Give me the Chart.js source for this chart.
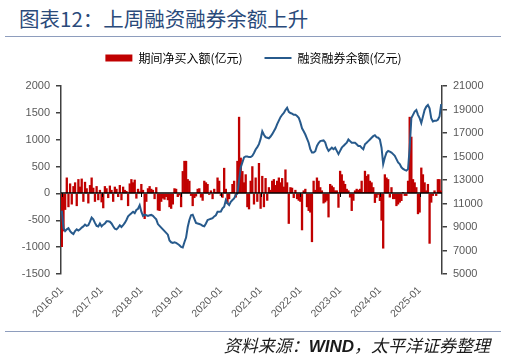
<!DOCTYPE html>
<html>
<head>
<meta charset="utf-8">
<script src="https://cdn.jsdelivr.net/npm/chart.js@4.4.1/dist/chart.umd.min.js"></script>
<style>
	body { margin: 0; background: #fff; }
	#wrap { position: relative; width: 507px; height: 359px; overflow: hidden; }
	#title { position: absolute; left: 19px; top: 3px; font: 20.5px "Noto Sans CJK SC", sans-serif; color: #2a4a7a; white-space: nowrap; }
	.rule { position: absolute; left: 5px; width: 496px; height: 0; border-top: 1.5px solid #8e9dbd; }
	#source { position: absolute; right: 17px; top: 332px; font: italic 17px "Noto Sans CJK SC", sans-serif; color: #1a1a1a; white-space: nowrap; }
	#source b { font-family: "Liberation Sans", sans-serif; }
	canvas { position: absolute; left: 0; top: 0; }
</style>
</head>
<body>
<div id="wrap">
	<div id="title">图表12：上周融资融券余额上升</div>
	<div class="rule" style="top:36px"></div>
	<canvas id="chart" width="507" height="359"></canvas>
	<div class="rule" style="top:331px"></div>
	<div id="source">资料来源：<b>WIND</b>，太平洋证券整理</div>
</div>
<script>
// half-month categories, 2016-01 .. 2025-07
var labels = [];
for (var y = 2016; y <= 2025; y++) {
	for (var m = 1; m <= 12; m++) {
		var mm = (m < 10 ? '0' : '') + m;
		labels.push(y + '-' + mm);
		labels.push(y + '-' + mm);
	}
}
labels = labels.slice(0, 230);

var yearTicks = ['2016-01', '2017-01', '2018-01', '2019-01', '2020-01', '2021-01', '2022-01', '2023-01', '2024-01', '2025-01'];

// 期间净买入额 (亿元)
var netBuy = [
	-990, -700, -300, 290, -250, 180, -200, 130, 200, -230, 260, 120, 270, -150, 210, 90, -180, 150, 290, 100, -150, 130, -120, 60,
	-160, -270, 130, 90, -80, 140, 60, -150, 120, 80, -60, 150, -120, 120, 60, 40, -230, 180, 260, 200, 250, -90, 80, 30,
	170, 60, -470, -150, 90, 130, 80, 60, -100, 110, -310, -320, -150, -90, -110, -60, -120, -250, -280, -200, 90, 80, -60, -30,
	-250, 410, 600, 600, 260, 230, -40, -230, -80, -50, 80, 90, -70, -130, 230, 200, 170, -20, 50, -100, 80, 20, 290, 230,
	-40, -75, 470, 80, -190, -100, 20, 170, 230, -70, 600, 1420, 660, 410, 200, 350, -250, -290, 230, 500, -200, 290, -150, 560,
	-280, 320, -250, 280, -130, 110, 60, 230, 260, 150, 230, 290, 200, 280, 120, 440, 200, -560, 110, 100, -80, 60, -100, -130,
	-150, -680, 50, 80, -250, -320, -350, -900, 230, 60, 290, 230, 110, 50, -180, -160, -130, -440, 170, 140, 110, 50, 50, -260,
	415, 350, 230, 170, 80, 50, -70, -320, -130, 50, 80, 60, 80, 230, 20, 415, 320, 350, 230, 200, 110, -170, -75, -20,
	-135, -500, -1020, 350, 290, 260, -70, 110, -100, -100, -230, -200, -165, -135, 20, -40, -40, 230, 1420, 1050, 260, 200, 110, -380,
	-350, 475, 350, 200, 50, 170, -930, -165, -40, 50, -40, 260, 260, 50
];

// 融资融券余额 (亿元)
var balance = [
	10400, 8900, 8650, 8800, 8900, 8650, 8500, 8400, 8650, 8800, 8700, 8800, 8950, 9050, 9200, 9100, 9150, 9450, 9800, 9650, 9350, 9100, 9050, 9300,
	9060, 9200, 9300, 9480, 9480, 9450, 9300, 9060, 8850, 8800, 8950, 9150, 9000, 9150, 9350, 9600, 9900, 10050, 10170, 10300, 10180, 10450, 10550, 10850,
	10300, 9950, 10050, 10000, 9950, 10000, 10030, 9950, 9800, 9650, 9250, 9100, 8950, 8800, 8650, 8500, 8350, 7850, 7700, 7650, 7700, 7650, 7550, 7450,
	7300, 7250, 7700, 8100, 9000, 9600, 10000, 10050, 9700, 9350, 9300, 9250, 9200, 9100, 9060, 9300, 9600, 9650, 9700, 9750, 9900, 10000, 10300, 10300,
	10315, 10590, 10730, 11290, 11010, 10870, 11150, 11300, 11430, 11710, 11850, 12960, 14080, 14500, 14920, 15000, 15000, 14950, 14950, 15050, 15300, 15600, 15800, 16050,
	16500, 17150, 16850, 16650, 16600, 16550, 16700, 16900, 17150, 17400, 17750, 18050, 18350, 18550, 18700, 18950, 19150, 18800, 18700, 18650, 18550, 18550, 18450, 18300,
	17900, 17400, 17150, 16870, 16530, 16175, 15615, 15335, 15335, 15450, 15900, 16150, 16310, 16350, 16370, 16200, 15750, 15480, 15620, 15750, 15620, 15750, 15480, 15200,
	15480, 15750, 15900, 16040, 16170, 16450, 16310, 16170, 16170, 16170, 16040, 15900, 15900, 15750, 15620, 16040, 16170, 16310, 16450, 16590, 16730, 16810, 16650, 16600,
	16450, 15750, 14360, 14920, 15335, 15475, 15420, 15335, 15200, 15060, 14780, 14500, 14360, 14080, 13940, 13860, 13800, 13940, 15755, 18270, 18545, 18825, 18960, 18545,
	18270, 17850, 18400, 18960, 19240, 19380, 19100, 18270, 17985, 18040, 18040, 18125, 18400, 19450
];

var red = '#c00000';
var blue = '#275a8c';
var tickFont = { family: 'Liberation Sans', size: 11 };
var tickColor = '#595959';
var axisColor = '#404040';

// black axis at zero with small year ticks
var zeroAxis = {
	id: 'zeroAxis',
	afterDatasetsDraw: function(chart) {
		var ctx = chart.ctx, area = chart.chartArea;
		var xs = chart.scales.x, y0 = Math.round(chart.scales.y.getPixelForValue(0));
		ctx.save();
		ctx.strokeStyle = '#000';
		ctx.lineWidth = 1.5;
		ctx.beginPath();
		ctx.moveTo(area.left, y0);
		ctx.lineTo(area.right, y0);
		ctx.stroke();
		ctx.lineWidth = 1;
		ctx.beginPath();
		labels.forEach(function(l, i) {
			if (i % 24 === 0 && yearTicks.indexOf(l) >= 0) {
				var x = Math.round(xs.getPixelForValue(i)) + 0.5;
				ctx.moveTo(x, y0);
				ctx.lineTo(x, y0 + 4);
			}
		});
		ctx.stroke();
		ctx.restore();
	}
};

// leave a gap under the legend
var legendGap = {
	id: 'legendGap',
	beforeLayout: function(chart) {
		var lg = chart.legend;
		if (lg && !lg._gapped) {
			var fit = lg.fit;
			lg.fit = function() { fit.call(this); this.height += 12; };
			lg._gapped = true;
		}
	}
};

function plain(v) { return String(v); }

new Chart(document.getElementById('chart'), {
	type: 'bar',
	data: {
		labels: labels,
		datasets: [{
			label: '期间净买入额(亿元)',
			data: netBuy,
			backgroundColor: red,
			barPercentage: 1,
			categoryPercentage: 1,
			yAxisID: 'y',
			order: 1
		}, {
			type: 'line',
			label: '融资融券余额(亿元)',
			data: balance,
			borderColor: blue,
			borderWidth: 2,
			pointRadius: 0,
			tension: 0,
			yAxisID: 'y1',
			order: 0
		}]
	},
	options: {
		responsive: false,
		animation: false,
		layout: { padding: { top: 30, left: 0, right: 0, bottom: 0 } },
		plugins: {
			tooltip: { enabled: false },
			legend: {
				position: 'top',
				labels: {
					usePointStyle: true,
					pointStyleWidth: 27,
					boxHeight: 7,
					padding: 22,
					color: '#404040',
					font: { family: 'Noto Sans CJK SC', size: 12 },
					sort: function(a, b) { return a.datasetIndex - b.datasetIndex; },
					generateLabels: function(chart) {
						return [{
							text: '期间净买入额(亿元)', datasetIndex: 0, pointStyle: 'rect',
							fillStyle: red, strokeStyle: red, lineWidth: 0
						}, {
							text: '融资融券余额(亿元)', datasetIndex: 1, pointStyle: 'line',
							fillStyle: blue, strokeStyle: blue, lineWidth: 2
						}];
					}
				}
			}
		},
		scales: {
			x: {
				grid: { display: false },
				border: { display: false },
				ticks: {
					autoSkip: false,
					minRotation: 45,
					maxRotation: 45,
					color: tickColor,
					font: { family: 'Liberation Sans', size: 10.5 },
					padding: 2,
					callback: function(v, i) {
						var l = labels[i];
						return (i % 24 === 0 && yearTicks.indexOf(l) >= 0) ? l : null;
					}
				},
				afterFit: function(s) { s.height = 85; }
			},
			y: {
				position: 'left',
				min: -1500,
				max: 2000,
				ticks: { stepSize: 500, color: tickColor, font: tickFont, padding: 6, callback: plain },
				grid: { drawOnChartArea: false, tickLength: 5, color: axisColor, lineWidth: 1.5 },
				border: { display: true, color: axisColor, width: 1.5 },
				afterFit: function(s) { s.width = 61; }
			},
			y1: {
				position: 'right',
				min: 5000,
				max: 21000,
				ticks: { stepSize: 2000, color: tickColor, font: tickFont, padding: 6, callback: plain },
				grid: { drawOnChartArea: false, tickLength: 5, color: axisColor, lineWidth: 1.5 },
				border: { display: true, color: axisColor, width: 1.5 },
				afterFit: function(s) { s.width = 65; }
			}
		}
	},
	plugins: [zeroAxis, legendGap]
});
</script>
</body>
</html>
